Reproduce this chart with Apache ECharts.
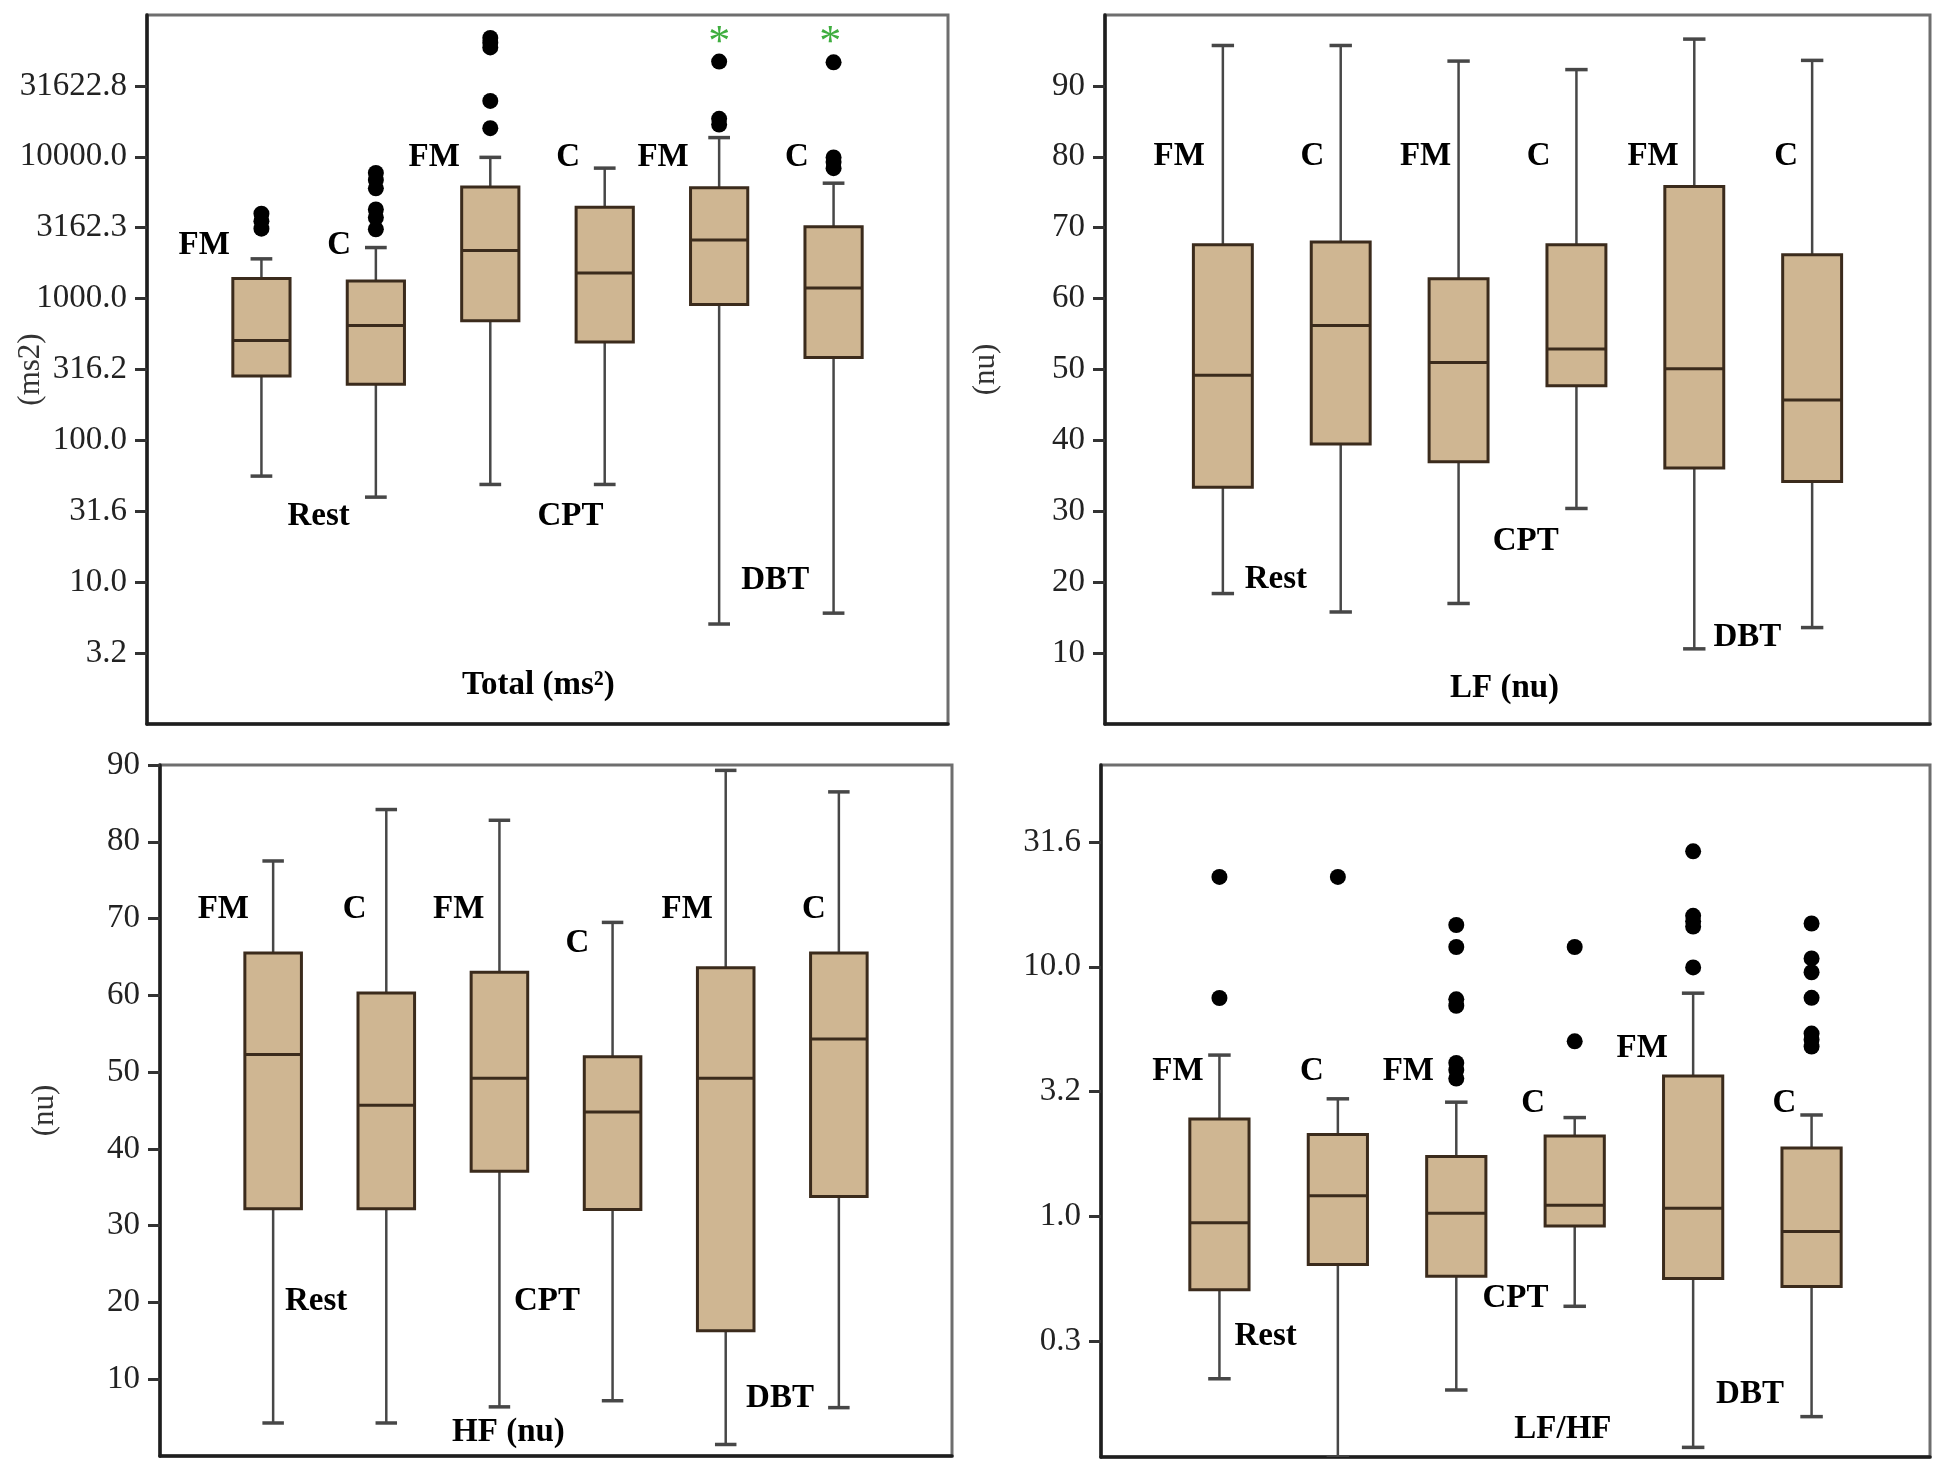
<!DOCTYPE html>
<html>
<head>
<meta charset="utf-8">
<script src="https://cdn.jsdelivr.net/npm/echarts@6/dist/echarts.min.js"></script>
<style>
  html, body { margin: 0; padding: 0; background: #fff; }
  #chart { width: 1950px; height: 1473px; }
</style>
</head>
<body>
<div id="chart"></div>
<script>
// ---------------- DATA ----------------
const groups = ['FM Rest', 'C Rest', 'FM CPT', 'C CPT', 'FM DBT', 'C DBT'];

// Each box: [lower whisker, Q1, median, Q3, upper whisker]
const totalBoxes = [
  [56, 285, 506, 1384, 1907],
  [39.8, 249, 645, 1333, 2291],
  [48.9, 697, 2188, 6130, 9910],
  [48.9, 494, 1517, 4415, 8320],
  [5.07, 910, 2588, 6040, 13660],
  [6.05, 384, 1188, 3205, 6515]
];
const totalOutliers = [
  [3970, 3515, 3113],
  [7700, 6870, 5990, 4250, 3730, 3085],
  [68900, 63800, 59100, 24760, 15920],
  [],
  [46970, 18530, 16900],
  [46400, 9900, 9180, 8320]
];
const totalTickLabels = ['3.2', '10.0', '31.6', '100.0', '316.2', '1000.0', '3162.3', '10000.0', '31622.8'];

const lfBoxes = [
  [18.4, 33.4, 49.2, 67.6, 95.7],
  [15.8, 39.5, 56.2, 68.0, 95.7],
  [17.0, 37.0, 51.0, 62.8, 93.5],
  [30.4, 47.7, 52.9, 67.6, 92.3],
  [10.6, 36.1, 50.1, 75.8, 96.6],
  [13.6, 34.2, 45.7, 66.2, 93.6]
];
const lfTickLabels = ['10', '20', '30', '40', '50', '60', '70', '80', '90'];

const hfBoxes = [
  [4.3, 32.2, 52.3, 65.5, 77.5],
  [4.3, 32.2, 45.7, 60.3, 84.2],
  [6.4, 37.1, 49.2, 63.0, 82.8],
  [7.2, 32.1, 44.8, 52.0, 69.5],
  [1.5, 16.3, 49.2, 63.6, 89.3],
  [6.3, 33.8, 54.3, 65.5, 86.5]
];
const hfTickLabels = ['10', '20', '30', '40', '50', '60', '70', '80', '90'];

const ratioBoxes = [
  [0.224, 0.509, 0.945, 2.46, 4.43],
  [0.108, 0.643, 1.21, 2.13, 2.96],
  [0.202, 0.577, 1.03, 1.74, 2.87],
  [0.437, 0.917, 1.11, 2.10, 2.49],
  [0.119, 0.565, 1.08, 3.65, 7.84],
  [0.158, 0.525, 0.871, 1.88, 2.55]
];
const ratioOutliers = [
  [22.9, 7.5],
  [22.9],
  [14.7, 12.0, 7.41, 6.98, 4.12, 3.86, 3.57],
  [12.0, 5.03],
  [29.0, 16.0, 15.2, 14.5, 9.94],
  [14.9, 10.8, 9.51, 7.51, 5.40, 5.10, 4.79]
];
const ratioTickLabels = ['0.3', '1.0', '3.2', '10.0', '31.6'];

const groupLabels = ['FM', 'C', 'FM', 'C', 'FM', 'C'];
const conditionLabels = ['Rest', 'CPT', 'DBT'];
const panelTitles = ['Total (ms²)', 'LF (nu)', 'HF (nu)', 'LF/HF'];
const axisNames = ['(ms2)', '(nu)', '(nu)', ''];

// ---------------- HELPERS ----------------
const L = v => Math.log10(v);
const SERIF = '"Liberation Serif", "DejaVu Serif", serif';
const BOX_FILL = '#cfb692';
const BOX_EDGE = '#3b2b1c';
const WHISK = '#474747';

function renderBox(params, api) {
  const x = api.value(0);
  const lo = api.coord([x, api.value(1)]);
  const q1 = api.coord([x, api.value(2)]);
  const md = api.coord([x, api.value(3)]);
  const q3 = api.coord([x, api.value(4)]);
  const hi = api.coord([x, api.value(5)]);
  const bw = api.size([1, 0])[0] * 0.5;
  const cw = bw * 0.38;
  const ls = { stroke: WHISK, lineWidth: 2.5 };
  return {
    type: 'group',
    children: [
      { type: 'line', shape: { x1: lo[0], y1: lo[1], x2: q1[0], y2: q1[1] }, style: ls },
      { type: 'line', shape: { x1: hi[0], y1: hi[1], x2: q3[0], y2: q3[1] }, style: ls },
      { type: 'line', shape: { x1: lo[0] - cw / 2, y1: lo[1], x2: lo[0] + cw / 2, y2: lo[1] }, style: { stroke: WHISK, lineWidth: 3.5 } },
      { type: 'line', shape: { x1: hi[0] - cw / 2, y1: hi[1], x2: hi[0] + cw / 2, y2: hi[1] }, style: { stroke: WHISK, lineWidth: 3.5 } },
      { type: 'rect', shape: { x: q3[0] - bw / 2, y: q3[1], width: bw, height: q1[1] - q3[1] },
        style: { fill: BOX_FILL, stroke: BOX_EDGE, lineWidth: 3 } },
      { type: 'line', shape: { x1: md[0] - bw / 2, y1: md[1], x2: md[0] + bw / 2, y2: md[1] },
        style: { stroke: BOX_EDGE, lineWidth: 3 } }
    ]
  };
}

function makeTextRenderer(texts, fonts, colors) {
  return function (params, api) {
    const p = api.coord([api.value(0), api.value(1)]);
    return {
      type: 'text', x: p[0], y: p[1],
      style: {
        text: texts[params.dataIndex], font: fonts[params.dataIndex] || ('bold 33px ' + SERIF),
        fill: colors[params.dataIndex] || '#000', align: 'center', verticalAlign: 'middle'
      }
    };
  };
}

const grids = [
  { left: 147, top: 15, width: 801, height: 709 },
  { left: 1105, top: 15, width: 825, height: 709 },
  { left: 160, top: 765, width: 792, height: 691 },
  { left: 1101, top: 765, width: 829, height: 692 }
];

// y axis configs
const yConf = [
  { min: 0, max: 5, ticks: [0.5, 1, 1.5, 2, 2.5, 3, 3.5, 4, 4.5], labels: totalTickLabels },
  { min: 0, max: 100, ticks: [10, 20, 30, 40, 50, 60, 70, 80, 90], labels: lfTickLabels },
  { min: 0, max: 90, ticks: [10, 20, 30, 40, 50, 60, 70, 80, 90], labels: hfTickLabels },
  { min: -0.963, max: 1.808, ticks: [-0.5, 0, 0.5, 1, 1.5], labels: ratioTickLabels }
];
const nameGaps = [101, 104, 100, 100];

// annotation positions (data coordinates: x in group units, y in axis units)
const annot = [
  { pos: [[-0.50, 3.373], [0.68, 3.373], [1.51, 3.993], [2.68, 3.993], [3.51, 3.993], [4.68, 3.993],
          [0.50, 1.461], [2.70, 1.461], [4.49, 1.014], [2.42, 0.275], [4.0, 4.80], [4.97, 4.80]],
    extra: ['*', '*'] },
  { pos: [[-0.37, 80.1], [0.76, 80.1], [1.72, 80.1], [2.68, 80.1], [3.65, 80.1], [4.78, 80.1],
          [0.45, 20.4], [2.57, 25.7], [4.45, 12.2], [2.39, 5.0]], extra: [] },
  { pos: [[-0.44, 71.2], [0.72, 71.2], [1.64, 71.2], [2.69, 66.8], [3.66, 71.2], [4.78, 71.2],
          [0.38, 20.1], [2.42, 20.1], [4.48, 7.5], [2.08, 3.0]], extra: [] },
  { pos: [[-0.35, 0.581], [0.78, 0.581], [1.595, 0.581], [2.65, 0.4525], [3.57, 0.671], [4.77, 0.4525],
          [0.39, -0.481], [2.50, -0.330], [4.48, -0.714], [2.90, -0.854]], extra: [] }
];

const boxSets = [
  totalBoxes.map(b => b.map(L)),
  lfBoxes,
  hfBoxes,
  ratioBoxes.map(b => b.map(L))
];
const outlierSets = [
  totalOutliers.map(o => o.map(L)),
  [[], [], [], [], [], []],
  [[], [], [], [], [], []],
  ratioOutliers.map(o => o.map(L))
];

const option = {
  backgroundColor: '#fff',
  animation: false,
  grid: grids.map(g => Object.assign({
    show: true, borderColor: '#6e6e6e', borderWidth: 3, backgroundColor: 'transparent',
    containLabel: false, outerBoundsMode: 'none'
  }, g)),
  xAxis: grids.map((g, i) => ({
    type: 'value', gridIndex: i, min: -1, max: 6,
    axisLine: { show: true, onZero: false, lineStyle: { color: '#1e1e1e', width: 3.5 } },
    axisTick: { show: false }, axisLabel: { show: false }, splitLine: { show: false }
  })),
  yAxis: yConf.map((c, i) => ({
    type: 'value', gridIndex: i, min: c.min, max: c.max,
    name: axisNames[i], nameLocation: 'middle', nameGap: nameGaps[i], nameMoveOverlap: false,
    nameTextStyle: { fontFamily: SERIF, fontSize: 31, color: '#333' },
    axisLine: { show: true, onZero: false, lineStyle: { color: '#1e1e1e', width: 3.5 } },
    axisTick: { show: true, length: 12, customValues: c.ticks, lineStyle: { color: '#333', width: 3 } },
    axisLabel: {
      show: true, customValues: c.ticks, margin: 20, hideOverlap: false,
      fontFamily: SERIF, fontSize: 33, color: '#222',
      formatter: v => {
        const k = c.ticks.findIndex(t => Math.abs(t - v) < 1e-6);
        return k >= 0 ? c.labels[k] : '';
      }
    },
    splitLine: { show: false }
  })),
  series: []
};

boxSets.forEach((boxes, i) => {
  option.series.push({
    type: 'custom', xAxisIndex: i, yAxisIndex: i, clip: true,
    renderItem: renderBox,
    encode: { x: 0, y: [1, 2, 3, 4, 5] },
    data: boxes.map((b, k) => [k].concat(b))
  });
  const pts = [];
  outlierSets[i].forEach((arr, k) => arr.forEach(v => pts.push([k, v])));
  if (pts.length) {
    option.series.push({
      type: 'scatter', xAxisIndex: i, yAxisIndex: i,
      symbol: 'circle', symbolSize: 16, itemStyle: { color: '#000', opacity: 1 }, data: pts, z: 5
    });
  }
  const texts = groupLabels.concat(conditionLabels).concat([panelTitles[i]]).concat(annot[i].extra);
  const fonts = texts.map((t, k) => k >= 10 ? ('44px ' + SERIF) : ('bold 33px ' + SERIF));
  const colors = texts.map((t, k) => k >= 10 ? '#3fae3f' : '#000');
  option.series.push({
    type: 'custom', xAxisIndex: i, yAxisIndex: i, clip: false, z: 10,
    renderItem: makeTextRenderer(texts, fonts, colors),
    data: annot[i].pos
  });
});

const chart = echarts.init(document.getElementById('chart'));
chart.setOption(option);
</script>
</body>
</html>
